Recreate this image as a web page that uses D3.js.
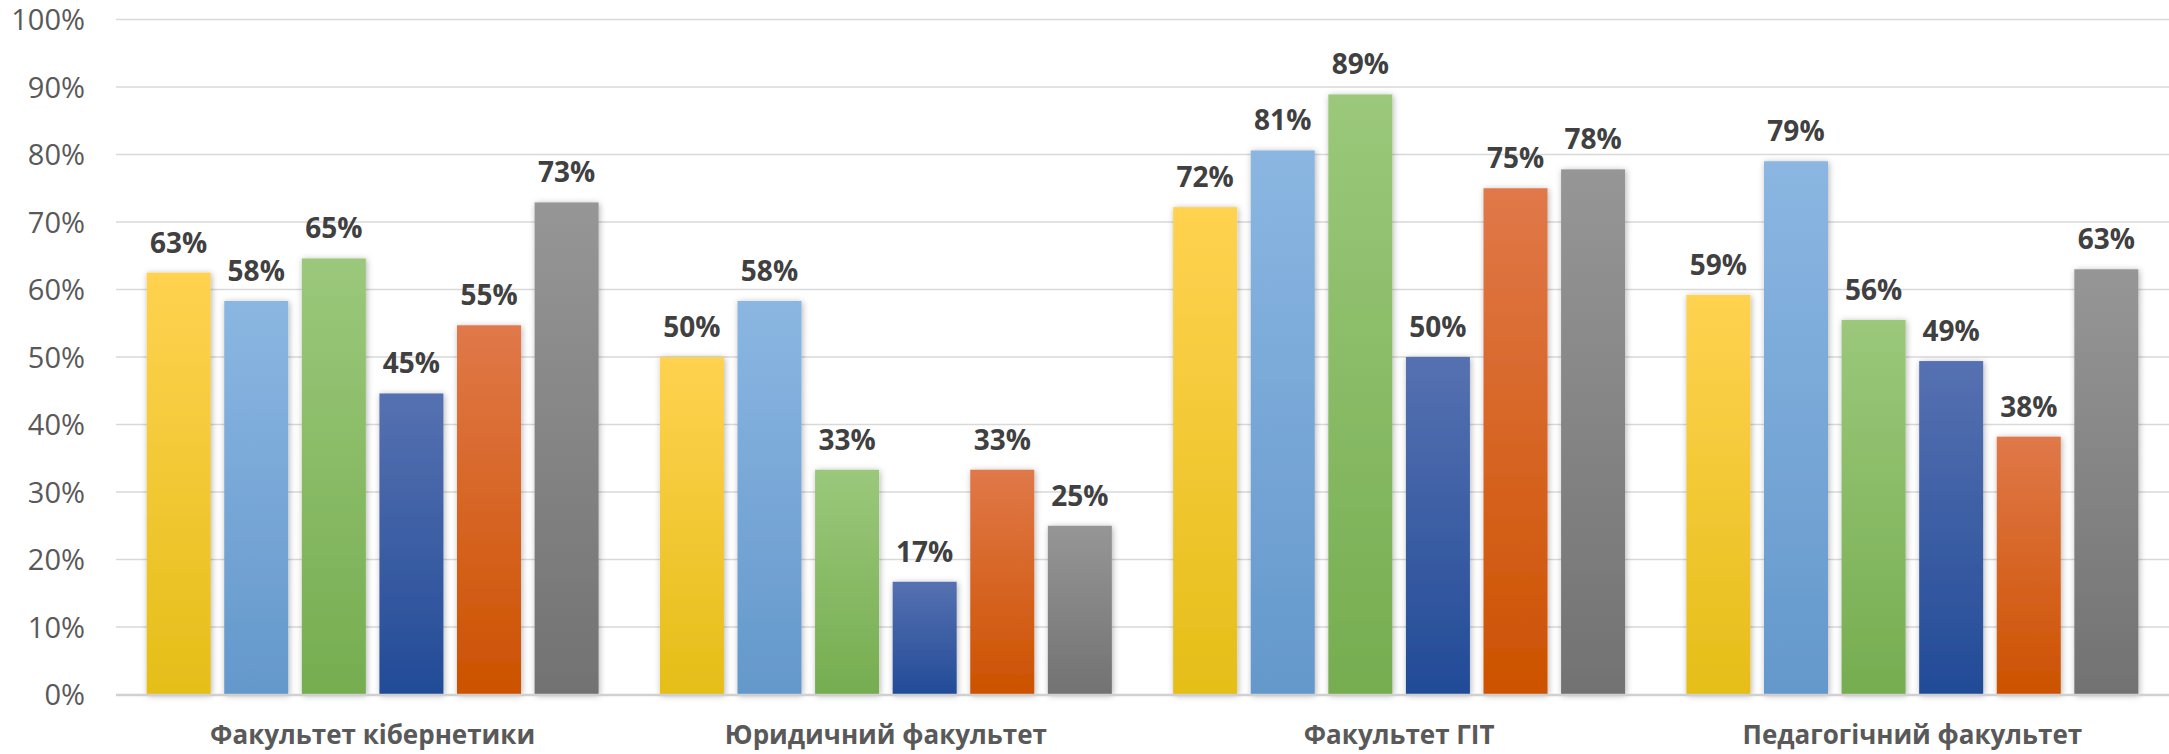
<!DOCTYPE html>
<html>
<head>
<meta charset="utf-8">
<script src="https://cdn.jsdelivr.net/npm/d3@7"></script>
<style>
  html, body { margin: 0; padding: 0; background: #ffffff; overflow: hidden; }
  svg { display: block; font-family: "Open Sans", "Noto Sans", sans-serif; }
</style>
</head>
<body>
<svg id="chart" width="2169" height="754"></svg>
<script>
// ---- data ----
const categories = ["Факультет кібернетики", "Юридичний факультет", "Факультет ГІТ", "Педагогічний факультет"];
const seriesNames = ["s1", "s2", "s3", "s4", "s5", "s6"];
const series1 = [0.625, 0.500, 0.722, 0.592];
const series2 = [0.583, 0.583, 0.806, 0.790];
const series3 = [0.646, 0.333, 0.889, 0.555];
const series4 = [0.446, 0.167, 0.500, 0.494];
const series5 = [0.547, 0.333, 0.750, 0.382];
const series6 = [0.729, 0.250, 0.778, 0.630];
const yTicks = [0, 0.1, 0.2, 0.3, 0.4, 0.5, 0.6, 0.7, 0.8, 0.9, 1.0];

// colours (top / bottom of each bar's gradient)
const colorTop = ["#FFD250", "#8BB6E2", "#9BC87B", "#5671B1", "#E07849", "#969696"];
const colorBot = ["#E5BE18", "#6498CB", "#76AD50", "#224B97", "#CD5200", "#727272"];

const allSeries = [series1, series2, series3, series4, series5, series6];

const svg = d3.select("#chart");
const plotLeft = 116, plotRight = 2169;
const yBottom = 694.5, yTop = 19.5;

const x0 = d3.scaleBand().domain(categories).range([plotLeft, plotRight]).paddingInner(0).paddingOuter(0);
const x1 = d3.scaleBand().domain(seriesNames).range([0, x0.bandwidth()]).paddingInner(0.175).paddingOuter(0.395);
const y = d3.scaleLinear().domain([0, 1]).range([yBottom, yTop]);

const defs = svg.append("defs");
seriesNames.forEach((s, i) => {
  const g = defs.append("linearGradient").attr("id", "grad" + i)
    .attr("x1", 0).attr("y1", 0).attr("x2", 0).attr("y2", 1);
  g.append("stop").attr("offset", "0%").attr("stop-color", colorTop[i]);
  g.append("stop").attr("offset", "100%").attr("stop-color", colorBot[i]);
});
const f = defs.append("filter").attr("id", "shadow")
  .attr("x", "-30%").attr("y", "-10%").attr("width", "160%").attr("height", "120%");
f.append("feDropShadow").attr("dx", 1).attr("dy", 1).attr("stdDeviation", 3)
  .attr("flood-color", "#000").attr("flood-opacity", 0.3);

// gridlines
const yAxis = d3.axisLeft(y).tickValues(yTicks).tickFormat(d3.format(".0%")).tickSize(0).tickPadding(0);
svg.append("g").attr("class", "grid")
  .selectAll("line").data(yTicks.filter(d => d > 0)).join("line")
  .attr("x1", plotLeft).attr("x2", plotRight)
  .attr("y1", d => y(d)).attr("y2", d => y(d))
  .attr("stroke", "#D9D9D9").attr("stroke-width", 1.5);

// y axis labels
const gy = svg.append("g").attr("transform", `translate(${plotLeft - 31},0)`).call(yAxis);
gy.select(".domain").remove();
gy.selectAll("text")
  .attr("font-family", "'Open Sans', sans-serif")
  .attr("font-size", 29).attr("fill", "#595959")
  .attr("dy", "0.36em").attr("x", 0);

// bars
const groups = svg.append("g").selectAll("g").data(categories).join("g")
  .attr("transform", d => `translate(${x0(d)},0)`);

groups.each(function(cat, ci) {
  const g = d3.select(this);
  const vals = seriesNames.map((s, si) => ({ s, si, v: allSeries[si][ci] }));
  g.selectAll("rect").data(vals).join("rect")
    .attr("x", d => x1(d.s)).attr("width", x1.bandwidth())
    .attr("y", d => y(d.v)).attr("height", d => y(0) - y(d.v))
    .attr("fill", d => `url(#grad${d.si})`)
    .attr("filter", "url(#shadow)");
  g.selectAll("text.lbl").data(vals).join("text").attr("class", "lbl")
    .attr("x", d => x1(d.s) + x1.bandwidth() / 2)
    .attr("y", d => y(d.v) - 20)
    .attr("text-anchor", "middle")
    .attr("font-size", 28).attr("font-weight", 700).attr("fill", "#404040")
    .text(d => d3.format(".0%")(d.v));
});

// baseline
svg.append("line").attr("x1", plotLeft).attr("x2", plotRight)
  .attr("y1", y(0) + 0.5).attr("y2", y(0) + 0.5)
  .attr("stroke", "#D0D0D0").attr("stroke-width", 2.5);

// x axis labels
const xAxis = d3.axisBottom(x0).tickSize(0).tickPadding(0);
const gx = svg.append("g").attr("transform", `translate(0,${y(0)})`).call(xAxis);
gx.select(".domain").remove();
gx.selectAll("text")
  .attr("font-family", "'Open Sans', sans-serif")
  .attr("font-size", 26).attr("font-weight", 700).attr("fill", "#595959")
  .attr("dy", null).attr("y", 49);
</script>
</body>
</html>
